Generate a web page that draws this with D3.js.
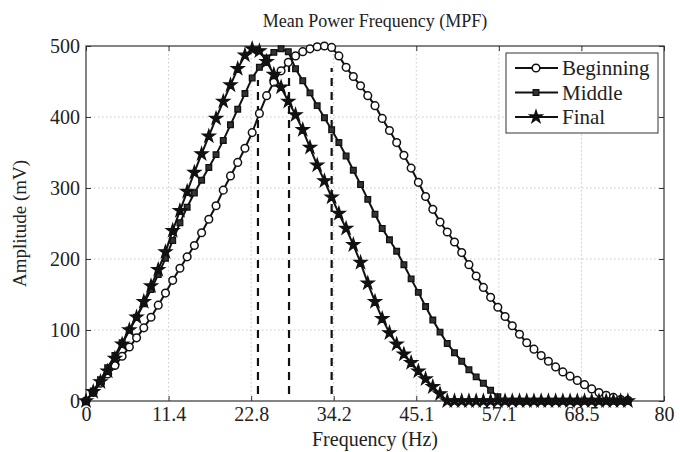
<!doctype html>
<html>
<head>
  <meta charset="utf-8">
  <script src="https://d3js.org/d3.v7.min.js"></script>
  <style>
    body { margin: 0; background: #fff; }
    text { font-family: "Liberation Serif", "DejaVu Serif", serif; fill: #222; }
    .grid line { stroke: #c8c8c8; stroke-dasharray: 1.5 2.5; }
  </style>
</head>
<body>
<script>
  // frequency samples (Hz), one per marker
  var freq = d3.range(0, 76);

  var beginning = [0, 12, 25, 38, 50, 63, 76, 89, 103, 118, 135, 152, 170, 187, 203, 219, 237, 256, 275, 297,
    317, 336, 356, 378, 405, 430, 449, 465, 477, 486, 492, 496, 499, 500, 498, 486, 470, 457, 444, 430,
    416, 398, 381, 364, 346, 328, 308, 288, 270, 252, 238, 224, 209, 192, 176, 160, 146, 132, 119, 106,
    94, 82, 73, 64, 56, 48, 41, 35, 29, 23, 17, 12, 8, 5, 2, 1];
  var middle = [0, 14, 30, 47, 64, 82, 100, 118, 137, 157, 178, 201, 226, 251, 273, 293, 311, 329, 347, 367,
    389, 411, 433, 455, 470, 483, 491, 496, 492, 468, 451, 434, 416, 399, 382, 364, 345, 325, 305, 284,
    263, 243, 227, 211, 192, 172, 153, 133, 114, 97, 81, 68, 56, 44, 34, 25, 15, 6, 0, 0,
    0, 0, 0, 0, 0, 0, 0, 0, 0, 0, 0, 0, 0, 0, 0, 0];
  var final = [0, 13, 27, 42, 60, 80, 100, 118, 140, 162, 185, 210, 240, 268, 295, 322, 348, 373, 398, 422,
    445, 468, 487, 496, 493, 478, 460, 442, 422, 403, 382, 357, 332, 310, 287, 264, 243, 220, 195, 166,
    140, 116, 96, 80, 66, 54, 42, 31, 20, 10, 0, 0, 0, 0, 0, 0, 0, 0, 0, 0,
    0, 0, 0, 0, 0, 0, 0, 0, 0, 0, 0, 0, 0, 0, 0, 0];

  var seriesNames = ["Beginning", "Middle", "Final"];
  // mean power frequency of each stage, drawn as dashed lines
  var mpfFreq = [23.8, 28.1, 34.0];
  var mpfTop = [452, 476, 469];

  var xTicks = d3.range(0, 8).map(function (i) { return i * 80 / 7; });
  var xTickLabels = ["0", "11.4", "22.8", "34.2", "45.1", "57.1", "68.5", "80"];
  var yTicks = [0, 100, 200, 300, 400, 500];

  var W = 680, H = 452;
  var margin = { left: 86, top: 46, right: 16, bottom: 51 };
  var w = W - margin.left - margin.right;
  var h = H - margin.top - margin.bottom;

  var svg = d3.select("body").append("svg")
    .attr("width", W).attr("height", H);

  var g = svg.append("g")
    .attr("transform", "translate(" + margin.left + "," + margin.top + ")");

  var x = d3.scaleLinear().domain([0, 80]).range([0, w]);
  var y = d3.scaleLinear().domain([0, 500]).range([h, 0]);

  // grid
  var grid = g.append("g").classed("grid", true);
  grid.selectAll(".gx").data(xTicks.slice(1, -1)).enter().append("line")
    .attr("x1", function (d) { return x(d); }).attr("x2", function (d) { return x(d); })
    .attr("y1", 0).attr("y2", h);
  grid.selectAll(".gy").data(yTicks.slice(1, -1)).enter().append("line")
    .attr("x1", 0).attr("x2", w)
    .attr("y1", function (d) { return y(d); }).attr("y2", function (d) { return y(d); });

  // axes with inward ticks, like matlab
  var xAxis = d3.axisBottom(x).tickValues(xTicks)
    .tickFormat(function (d, i) { return xTickLabels[i]; })
    .tickSizeInner(-5).tickSizeOuter(0).tickPadding(6);
  var yAxis = d3.axisLeft(y).tickValues(yTicks)
    .tickSizeInner(-5).tickSizeOuter(0).tickPadding(6);

  var gx = g.append("g").attr("transform", "translate(0," + h + ")").call(xAxis);
  var gy = g.append("g").call(yAxis);
  g.append("g").call(d3.axisTop(x).tickValues(xTicks).tickSizeInner(-5).tickSizeOuter(0).tickFormat(""));
  g.append("g").attr("transform", "translate(" + w + ",0)")
    .call(d3.axisRight(y).tickValues(yTicks).tickSizeInner(-5).tickSizeOuter(0).tickFormat(""));

  [gx, gy].forEach(function (a) {
    a.selectAll("text").style("font-size", "20px")
      .style("font-family", "'Liberation Serif', serif").attr("fill", "#222");
  });
  g.selectAll(".domain").remove();
  g.selectAll(".tick line").attr("stroke", "#333");

  g.append("rect").attr("width", w).attr("height", h)
    .attr("fill", "none").attr("stroke", "#333").attr("stroke-width", 1.2);

  // dashed mpf markers
  g.selectAll(".mpf").data(mpfFreq).enter().append("line")
    .attr("x1", function (d) { return x(d); }).attr("x2", function (d) { return x(d); })
    .attr("y1", y(10)).attr("y2", function (d, i) { return y(mpfTop[i]); })
    .attr("stroke", "#111").attr("stroke-width", 2.2).attr("stroke-dasharray", "8 6");

  var line = d3.line()
    .x(function (d, i) { return x(freq[i]); })
    .y(function (d) { return y(d); });

  var symBegin = d3.symbol().type(d3.symbolCircle).size(46);
  var symMiddle = d3.symbol().type(d3.symbolSquare).size(32);
  var symFinal = d3.symbol().type(d3.symbolStar).size(52);

  var styles = [
    { data: beginning, sym: symBegin, fill: "#fff", stroke: "#111", sw: 1.5 },
    { data: middle, sym: symMiddle, fill: "#333", stroke: "#111", sw: 1.3 },
    { data: final, sym: symFinal, fill: "#111", stroke: "#111", sw: 1.2 }
  ];

  styles.forEach(function (s) {
    g.append("path").datum(s.data)
      .attr("d", line).attr("fill", "none")
      .attr("stroke", "#111").attr("stroke-width", 2);
    g.selectAll(null).data(s.data).enter().append("path")
      .attr("transform", function (d, i) { return "translate(" + x(freq[i]) + "," + y(d) + ")"; })
      .attr("d", s.sym)
      .attr("fill", s.fill).attr("stroke", s.stroke).attr("stroke-width", s.sw);
  });

  // legend
  var lg = svg.append("g").attr("transform", "translate(506,53)");
  lg.append("rect").attr("width", 152).attr("height", 80)
    .attr("fill", "#fff").attr("stroke", "#333");
  styles.forEach(function (s, i) {
    var yy = 15 + i * 24.5;
    lg.append("line").attr("x1", 9).attr("x2", 52).attr("y1", yy).attr("y2", yy)
      .attr("stroke", "#111").attr("stroke-width", 2);
    lg.append("path").attr("transform", "translate(30," + yy + ")")
      .attr("d", s.sym).attr("fill", s.fill).attr("stroke", s.stroke).attr("stroke-width", s.sw);
    lg.append("text").attr("x", 56).attr("y", yy + 7)
      .style("font-size", "21px").text(seriesNames[i]);
  });

  // titles
  svg.append("text").attr("x", margin.left + w / 2).attr("y", 27)
    .attr("text-anchor", "middle").style("font-size", "18px")
    .text("Mean Power Frequency  (MPF)");
  svg.append("text").attr("x", margin.left + w / 2).attr("y", 446)
    .attr("text-anchor", "middle").style("font-size", "20px")
    .text("Frequency (Hz)");
  svg.append("text")
    .attr("transform", "translate(26," + (margin.top + h / 2) + ") rotate(-90)")
    .attr("text-anchor", "middle").style("font-size", "19px")
    .text("Amplitude (mV)");
</script>
</body>
</html>
